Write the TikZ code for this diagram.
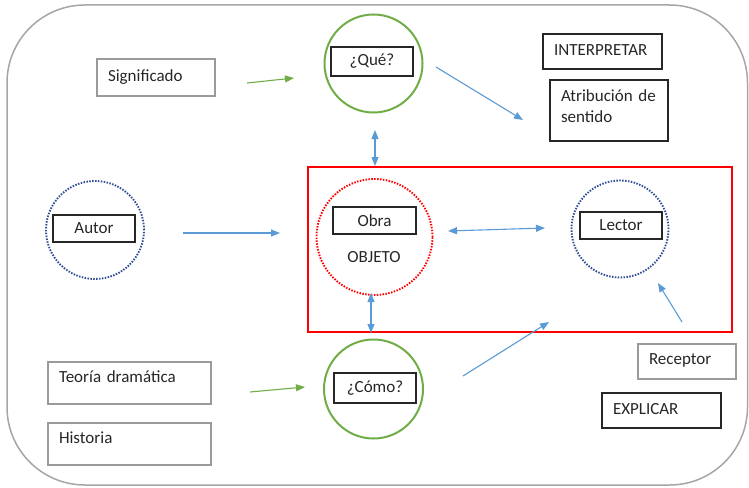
\documentclass[tikz,border=0pt]{standalone}
\usepackage{fontspec}
\setmainfont{Carlito}
\usetikzlibrary{arrows.meta}
\definecolor{ink}{HTML}{262626}
\definecolor{framegray}{HTML}{A6A6A6}
\definecolor{boxgray}{HTML}{9A9A9A}
\definecolor{leafgreen}{HTML}{70AD47}
\definecolor{skyblue}{HTML}{5B9BD5}
\definecolor{navyblue}{HTML}{2F4E96}
\definecolor{brightred}{HTML}{FF0000}
\tikzset{
  box/.style={draw=ink, line width=1.2pt, inner xsep=11pt, inner ysep=0pt, align=left},
  graybox/.style={box, draw=boxgray},
  tagbox/.style={draw=ink, line width=1.2pt, inner sep=0pt, align=center},
  ring/.style={circle, inner sep=0pt, line width=2pt},
  greenring/.style={ring, draw=leafgreen},
  dotring/.style={ring, line width=1.9pt, dash pattern=on 1.5pt off 1.4pt},
  bluearrow/.style={draw=skyblue, line width=1.1pt, -{Triangle[length=9pt,width=7pt]}},
  bluetwoway/.style={draw=skyblue, line width=1.1pt, {Triangle[length=9pt,width=7pt]}-{Triangle[length=9pt,width=7pt]}},
  greenarrow/.style={draw=leafgreen, line width=1.1pt, -{Triangle[length=9pt,width=7pt]}}
}
\begin{document}
\begin{tikzpicture}[x=1pt, y=-1pt, font=\fontsize{17}{21}\selectfont, text=ink]
\useasboundingbox (0,0) rectangle (749,487);

% outer frame
\draw[framegray, line width=1.5pt, rounded corners=78pt] (7,5) rectangle (747.5,485);

% central focus frame
\node[draw=brightred, line width=2pt, minimum width=424pt, minimum height=165pt, inner sep=0pt] (focus) at (520,249.5) {};

% circles
\node[greenring, minimum size=98pt] (que) at (373.5,63.5) {};
\node[greenring, minimum size=99pt] (como) at (373.5,389) {};
\node[dotring, draw=brightred, minimum size=116pt] (obra) at (374.5,237) {};
\node[dotring, draw=navyblue, minimum size=97pt] (lector) at (620,229) {};
\node[dotring, draw=navyblue, minimum size=98pt] (autor) at (95,230) {};

% labels inside circles
\node[tagbox, minimum width=82pt, minimum height=29pt] (queL) at (372,61.5) {¿Qué?};
\node[tagbox, minimum width=83pt, minimum height=27pt] (obraL) at (374.5,220.5) {Obra};
\node[text=ink] (objeto) at (374,257) {OBJETO};
\node[tagbox, minimum width=82pt, minimum height=27pt] (lectorL) at (621,225.5) {Lector};
\node[tagbox, minimum width=82pt, minimum height=27pt] (autorL) at (94,228.5) {Autor};
\node[tagbox, minimum width=82pt, minimum height=30pt] (comoL) at (375,388) {¿Cómo?};

% text boxes
\node[graybox, text width=96pt, minimum height=37pt] (sig) at (156,77.5) {Significado};
\node[box, text width=97pt, minimum height=35pt, text depth=3pt] (interp) at (602.5,51.5) {INTERPRETAR};
\node[box, text width=96pt, minimum height=61pt, text depth=29pt] (atrib) at (609,110.5) {Atribución de sentido};
\node[graybox, text width=141pt, minimum height=42pt, text depth=12pt] (teoria) at (129.5,383) {Teoría dramática};
\node[graybox, text width=141pt, minimum height=42pt, text depth=12pt] (historia) at (129.5,444) {Historia};
\node[graybox, text width=76pt, minimum height=35pt, text depth=4pt] (receptor) at (687,361.5) {Receptor};
\node[box, text width=97pt, minimum height=35pt, text depth=4pt] (explicar) at (661.5,410.5) {EXPLICAR};

% free arrow ends
\coordinate (sigEnd) at (247,83);
\coordinate (queIn) at (294,78);
\coordinate (queOut) at (436,67);
\coordinate (atribIn) at (523,120);
\coordinate (queLow) at (375,130);
\coordinate (autorOut) at (183,233);
\coordinate (obraIn) at (280,233);
\coordinate (obraRight) at (448,231);
\coordinate (lectorLeft) at (545,228);
\coordinate (obraLow) at (371,293);
\coordinate (teoriaEnd) at (250,392);
\coordinate (comoIn) at (305,387);
\coordinate (comoOut) at (463,376);
\coordinate (focusIn) at (549,322);
\coordinate (receptorTop) at (682,322);
\coordinate (lectorIn) at (658,283);

% connectors
\draw[greenarrow] (sigEnd) -- (queIn);
\draw[bluearrow] (queOut) -- (atribIn);
\draw[bluetwoway] (queLow) -- (queLow |- focus.north);
\draw[bluearrow] (autorOut) -- (obraIn);
\draw[bluetwoway] (obraRight) -- (lectorLeft);
\draw[bluetwoway] (obraLow) -- (obraLow |- focus.south);
\draw[greenarrow] (teoriaEnd) -- (comoIn);
\draw[bluearrow] (comoOut) -- (focusIn);
\draw[bluearrow] (receptorTop) -- (lectorIn);
\end{tikzpicture}
\end{document}
